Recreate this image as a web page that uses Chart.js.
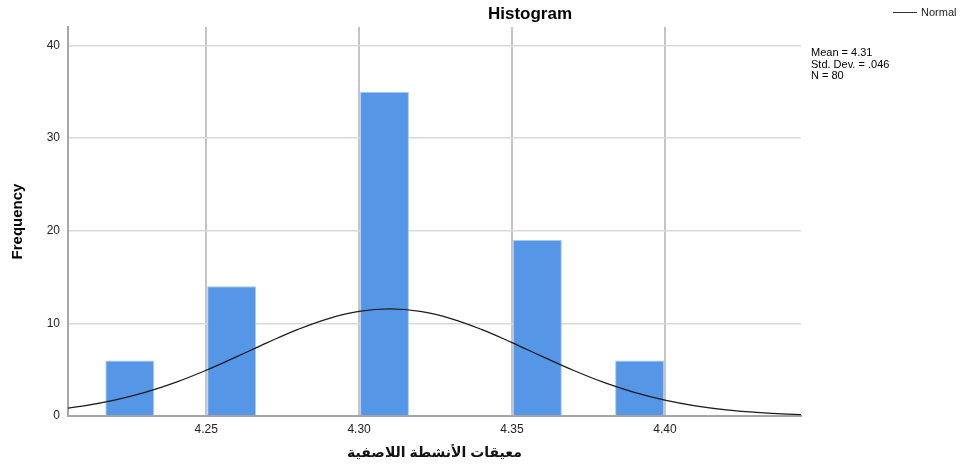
<!DOCTYPE html>
<html>
<head>
<meta charset="utf-8">
<script src="https://cdn.jsdelivr.net/npm/chart.js@4.4.1/dist/chart.umd.min.js"></script>
<style>
  html, body { margin: 0; padding: 0; background: #ffffff; overflow: hidden; }
  #wrap { position: relative; width: 964px; height: 469px; }
</style>
</head>
<body>
<div id="wrap"><canvas id="hist"></canvas></div>
<script>
// Histogram bins (centre of each bin) and their frequencies
const binCenters = [4.225, 4.2583, 4.3083, 4.3583, 4.3917];
const frequencies = [6, 14, 35, 19, 6];

// Fitted normal curve, sampled along the x axis
const curveX = [4.20, 4.21, 4.22, 4.23, 4.24, 4.25, 4.26, 4.27, 4.28, 4.29, 4.30, 4.31, 4.32,
                4.33, 4.34, 4.35, 4.36, 4.37, 4.38, 4.39, 4.40, 4.41, 4.42, 4.43, 4.44, 4.45];
const curveY = [0.66, 1.09, 1.71, 2.55, 3.63, 4.94, 6.41, 7.92, 9.35, 10.52, 11.29, 11.56, 11.29,
                10.52, 9.35, 7.92, 6.41, 4.94, 3.63, 2.55, 1.71, 1.09, 0.66, 0.39, 0.21, 0.11];

// Axis ticks
const xTicks = [4.25, 4.30, 4.35, 4.40];
const yTicks = [0, 10, 20, 30, 40];

// Summary statistics shown beside the plot
const statLines = ['Mean = 4.31', 'Std. Dev. = .046', 'N = 80'];
const chartTitle = 'Histogram';
const legendLabel = 'Normal';
const xTitle = 'معيقات الأنشطة اللاصفية';
const yTitle = 'Frequency';

const FONT = "'Liberation Sans', Arial, 'DejaVu Sans', sans-serif";

const annotations = {
  id: 'annotations',
  afterDraw(chart) {
    const ctx = chart.ctx;
    ctx.save();
    // title
    ctx.fillStyle = '#000';
    ctx.font = 'bold 17px ' + FONT;
    ctx.textAlign = 'center';
    ctx.textBaseline = 'middle';
    ctx.fillText(chartTitle, 530, 14);
    // legend
    ctx.strokeStyle = '#333';
    ctx.lineWidth = 1;
    ctx.beginPath();
    ctx.moveTo(893, 12.5);
    ctx.lineTo(917, 12.5);
    ctx.stroke();
    ctx.font = '11px ' + FONT;
    ctx.textAlign = 'left';
    ctx.fillStyle = '#222';
    ctx.fillText(legendLabel, 921, 13);
    // statistics
    ctx.fillStyle = '#000';
    statLines.forEach((t, i) => ctx.fillText(t, 811, 53 + i * 11.5));
    ctx.restore();
  }
};

new Chart(document.getElementById('hist'), {
  type: 'bar',
  data: {
    datasets: [
      {
        type: 'line',
        data: curveX.map((x, i) => ({ x, y: curveY[i] })),
        borderColor: '#1a1a1a',
        borderWidth: 1.2,
        pointRadius: 0,
        tension: 0.4,
        fill: false,
        order: 0
      },
      {
        type: 'bar',
        data: binCenters.map((x, i) => ({ x, y: frequencies[i] })),
        backgroundColor: '#5596e6',
        borderColor: '#a9c9f0',
        borderWidth: 1,
        barPercentage: 0.48,
        categoryPercentage: 1,
        order: 1
      }
    ]
  },
  options: {
    responsive: true,
    maintainAspectRatio: false,
    animation: false,
    devicePixelRatio: 1,
    layout: { padding: { left: 0, right: 163, top: 27, bottom: 0 } },
    plugins: { legend: { display: false }, tooltip: { enabled: false }, title: { display: false } },
    scales: {
      x: {
        type: 'linear',
        offset: false,
        min: 4.2048,
        max: 4.4445,
        afterBuildTicks(scale) { scale.ticks = xTicks.map(v => ({ value: v })); },
        afterFit(scale) { scale.height = 53; },
        ticks: {
          callback: v => v.toFixed(2),
          color: '#222',
          font: { family: FONT, size: 12 },
          padding: 6,
          maxRotation: 0,
          autoSkip: false
        },
        grid: { offset: false, color: '#c4c4c4', lineWidth: 2, drawTicks: false },
        border: { color: '#a6a6a6', width: 2 },
        title: {
          display: true,
          text: xTitle,
          color: '#111',
          font: { family: FONT, size: 14, weight: 'bold' },
          padding: { top: 0, bottom: 7 }
        }
      },
      y: {
        min: 0,
        max: 42,
        afterBuildTicks(scale) { scale.ticks = yTicks.map(v => ({ value: v })); },
        afterFit(scale) { scale.width = 68; },
        ticks: {
          color: '#222',
          font: { family: FONT, size: 12 },
          padding: 8
        },
        grid: { color: '#d9d9d9', lineWidth: 1.5, drawTicks: false },
        border: { color: '#a6a6a6', width: 2 },
        title: {
          display: true,
          text: yTitle,
          color: '#000',
          font: { family: FONT, size: 15, weight: 'bold' },
          padding: { top: 9, bottom: 0 }
        }
      }
    }
  },
  plugins: [annotations]
});
</script>
</body>
</html>
